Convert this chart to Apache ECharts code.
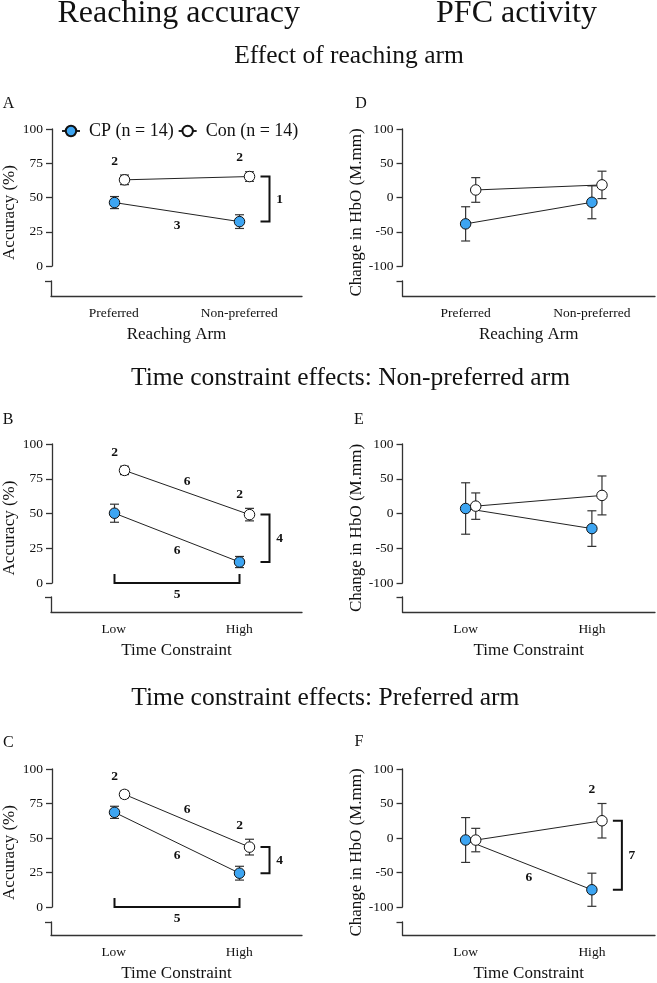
<!DOCTYPE html>
<html>
<head>
<meta charset="utf-8">
<script src="https://cdn.jsdelivr.net/npm/echarts@6/dist/echarts.min.js"></script>
<style>
  html, body { margin: 0; padding: 0; background: #fff; }
  #main { width: 657px; height: 983px; }
</style>
</head>
<body>
<div id="main"></div>
<script>
// panel order: A, D, B, E, C, F  (left column = accuracy, right column = HbO)
var panelLetters = ['A', 'D', 'B', 'E', 'C', 'F'];
var armCats = ['Preferred', 'Non-preferred'];
var timeCats = ['Low', 'High'];
var catPos = [1, 2];
var conShift = 0.08;

// group means and error
var cpMean  = [[46.3, 32.4], [-38.5, -7], [50.2, 15.1], [7.2, -21.7], [68.6, 24.5], [-2.9, -75]];
var cpErr   = [[4.4, 5.0], [25, 24], [6.5, 4.0], [37, 25.6], [4.4, 5.0], [32.5, 24]];
var conMean = [[62.9, 65.3], [11, 18.4], [81, 49.2], [10.6, 26], [81.6, 43.4], [-3, 25]];
var conErr  = [[3.5, 3.5], [18, 20], [3.0, 4.5], [19, 28], [2.5, 5.7], [17, 25]];

// y axis ticks
var accTicks = [0, 25, 50, 75, 100];
var hboTicks = [-100, -50, 0, 50, 100];

// significance markers
var sigAbove    = [['2', '2'], ['', ''], ['2', '2'], ['', ''], ['2', '2'], ['', '2']];
var sigConSlope = ['', '', '6', '', '6', ''];
var sigCpSlope  = ['3', '', '6', '', '6', '6'];
var sigGroup    = ['1', '', '4', '', '4', '7'];
var sigTime     = ['', '', '5', '', '5', ''];

var CP_NAME = 'CP (n = 14)';
var CON_NAME = 'Con (n = 14)';
var cpColor = '#3DA5F2';
var ink = '#111';
var axisInk = '#333';
var FONT = '"Liberation Serif", "Times New Roman", serif';

// layout
var colLeft = [51, 402.5], colWidth = [251, 252.5];
var rowTop = [129, 444, 769], rowHeight = [137, 139, 138];
var lowTop = [281, 597, 922], lowHeight = [15, 15, 14];

var grids = [], xAxes = [], yAxes = [], series = [];

function errRender(params, api) {
  var x = api.value(0), m = api.value(1), e = api.value(2);
  var t = api.coord([x, m + e]), b = api.coord([x, m - e]);
  var hw = 4.5, st = { stroke: axisInk, lineWidth: 1.2 };
  return {
    type: 'group',
    children: [
      { type: 'line', shape: { x1: t[0], y1: t[1], x2: b[0], y2: b[1] }, style: st },
      { type: 'line', shape: { x1: t[0] - hw, y1: t[1], x2: t[0] + hw, y2: t[1] }, style: st },
      { type: 'line', shape: { x1: b[0] - hw, y1: b[1], x2: b[0] + hw, y2: b[1] }, style: st }
    ]
  };
}

function sigText(x, y, txt) {
  return {
    type: 'text', x: x, y: y,
    style: { text: txt, fill: ink, font: 'bold 13.5px ' + FONT, align: 'center', verticalAlign: 'middle' }
  };
}

function buildAnno(p) {
  var items = [];
  for (var i = 0; i < 2; i++) {
    if (sigAbove[p][i]) items.push({ kind: 'top', v: [catPos[i], conMean[p][i] + conErr[p][i]], text: sigAbove[p][i] });
  }
  if (sigConSlope[p]) items.push({ kind: 'slope', dy: -11,
    v: [catPos[0] + conShift, conMean[p][0], catPos[1] + conShift, conMean[p][1]], text: sigConSlope[p] });
  if (sigCpSlope[p]) items.push({ kind: 'slope', dy: 13,
    v: [catPos[0], cpMean[p][0], catPos[1], cpMean[p][1]], text: sigCpSlope[p] });
  if (sigGroup[p]) items.push({ kind: 'group', v: [catPos[1], conMean[p][1], catPos[1], cpMean[p][1]], text: sigGroup[p] });
  if (sigTime[p]) items.push({ kind: 'time', v: [catPos[0], 0, catPos[1], 0], text: sigTime[p] });
  return items;
}

function annoRender(items) {
  return function (params, api) {
    var it = items[params.dataIndex];
    var v = it.v;
    var a = api.coord([v[0], v[1]]);
    var lineSt = { stroke: ink, lineWidth: 2, fill: null };
    if (it.kind === 'top') return sigText(a[0], a[1] - 14, it.text);
    var b = api.coord([v[2], v[3]]);
    if (it.kind === 'slope') return sigText((a[0] + b[0]) / 2, (a[1] + b[1]) / 2 + it.dy, it.text);
    if (it.kind === 'group') {
      var bx = a[0] + 30;
      return { type: 'group', children: [
        { type: 'polyline', shape: { points: [[bx - 9, a[1]], [bx, a[1]], [bx, b[1]], [bx - 9, b[1]]] }, style: lineSt },
        sigText(bx + 10, (a[1] + b[1]) / 2, it.text)
      ] };
    }
    // time effect bracket along zero
    return { type: 'group', children: [
      { type: 'polyline', shape: { points: [[a[0], a[1] - 9], [a[0], a[1]], [b[0], b[1]], [b[0], b[1] - 9]] }, style: lineSt },
      sigText((a[0] + b[0]) / 2, a[1] + 12, it.text)
    ] };
  };
}

for (var p = 0; p < 6; p++) {
  var row = Math.floor(p / 2), col = p % 2;
  var isAcc = col === 0;
  var ticks = isAcc ? accTicks : hboTicks;
  var cats = row === 0 ? armCats : timeCats;
  var up = 2 * p, lo = 2 * p + 1;
  var shift = (lowTop[row] + lowHeight[row] - rowTop[row] - rowHeight[row]) / 2;

  grids.push({ left: colLeft[col], width: colWidth[col], top: rowTop[row], height: rowHeight[row] });
  grids.push({ left: colLeft[col], width: colWidth[col], top: lowTop[row], height: lowHeight[row] });

  xAxes.push({ type: 'value', gridIndex: up, min: 0.5, max: 2.5, show: false });
  xAxes.push({
    type: 'category', gridIndex: lo, data: cats, boundaryGap: true,
    axisLine: { onZero: false, lineStyle: { color: axisInk, width: 1.3 } },
    axisTick: { alignWithLabel: true, length: 6, lineStyle: { color: axisInk, width: 1.3 } },
    axisLabel: { margin: 10, fontSize: 13.5, color: ink, fontFamily: FONT },
    name: row === 0 ? 'Reaching Arm' : 'Time Constraint',
    nameLocation: 'middle', nameGap: 30,
    nameTextStyle: { fontSize: 17, color: ink, fontFamily: FONT }
  });

  yAxes.push({
    type: 'value', gridIndex: up,
    min: ticks[0], max: ticks[ticks.length - 1], interval: ticks[1] - ticks[0],
    axisLine: { show: true, onZero: false, lineStyle: { color: axisInk, width: 1.3 } },
    axisTick: { show: true, length: 6, lineStyle: { color: axisInk, width: 1.3 } },
    axisLabel: { margin: 9, fontSize: 13.5, color: ink, fontFamily: FONT },
    splitLine: { show: false },
    name: isAcc ? 'Accuracy (%)' : 'Change in HbO (M.mm)',
    nameLocation: 'middle', nameGap: 34,
    nameTextStyle: { fontSize: 17, color: ink, fontFamily: FONT, padding: [0, 2 * shift, 0, 0] }
  });
  yAxes.push({
    type: 'value', gridIndex: lo, min: 0, max: 1, interval: 1,
    axisLine: { show: true, onZero: false, lineStyle: { color: axisInk, width: 1.3 } },
    axisTick: { show: true, length: 6, customValues: [1], lineStyle: { color: axisInk, width: 1.3 } },
    axisLabel: { show: false },
    splitLine: { show: false }
  });

  var lineBase = {
    type: 'line', xAxisIndex: up, yAxisIndex: up,
    symbol: 'circle', symbolSize: 10.5, z: 3,
    lineStyle: { color: '#222', width: 1 }
  };
  series.push(Object.assign({}, lineBase, {
    name: CP_NAME,
    itemStyle: { color: cpColor, borderColor: ink, borderWidth: 1 },
    data: catPos.map(function (x, i) { return [x, cpMean[p][i]]; })
  }));
  series.push(Object.assign({}, lineBase, {
    name: CON_NAME,
    itemStyle: { color: '#fff', borderColor: ink, borderWidth: 1 },
    data: catPos.map(function (x, i) { return [x + conShift, conMean[p][i]]; })
  }));
  series.push({
    type: 'custom', xAxisIndex: up, yAxisIndex: up, z: 2, clip: false,
    renderItem: errRender,
    data: catPos.map(function (x, i) { return [x, cpMean[p][i], cpErr[p][i]]; })
  });
  series.push({
    type: 'custom', xAxisIndex: up, yAxisIndex: up, z: 2, clip: false,
    renderItem: errRender,
    data: catPos.map(function (x, i) { return [x + conShift, conMean[p][i], conErr[p][i]]; })
  });
  var anno = buildAnno(p);
  if (anno.length) {
    series.push({
      type: 'custom', xAxisIndex: up, yAxisIndex: up, z: 4, clip: false,
      renderItem: annoRender(anno),
      data: anno.map(function (d) { return [d.v[0], d.v[1]]; })
    });
  }
}

function head(text, x, y, size) {
  return { text: text, left: x, top: y, textAlign: 'center', padding: 0,
    textStyle: { fontSize: size, fontWeight: 'normal', color: ink, fontFamily: FONT } };
}
var titles = [
  head('Reaching accuracy', 178.7, -2, 32),
  head('PFC activity', 516.5, -2, 32),
  head('Effect of reaching arm', 349, 43, 25.5),
  head('Time constraint effects: Non-preferred arm', 350.5, 365, 25.5),
  head('Time constraint effects: Preferred arm', 325.3, 685, 25.5)
];
var letterPos = [[8.5, 95.5], [361, 95.5], [8, 412], [359, 412], [8.3, 734.7], [359, 734]];
panelLetters.forEach(function (l, i) { titles.push(head(l, letterPos[i][0], letterPos[i][1], 16)); });

var chart = echarts.init(document.getElementById('main'));
chart.setOption({
  animation: false,
  backgroundColor: '#fff',
  textStyle: { fontFamily: FONT, color: ink },
  title: titles,
  legend: {
    data: [CP_NAME, CON_NAME],
    left: 61, top: 122, padding: 0,
    itemWidth: 18, itemHeight: 13, itemGap: 4,
    textStyle: { fontSize: 18, color: ink, fontFamily: FONT, padding: [0, 0, 0, 4] }
  },
  grid: grids,
  xAxis: xAxes,
  yAxis: yAxes,
  series: series
});
</script>
</body>
</html>
